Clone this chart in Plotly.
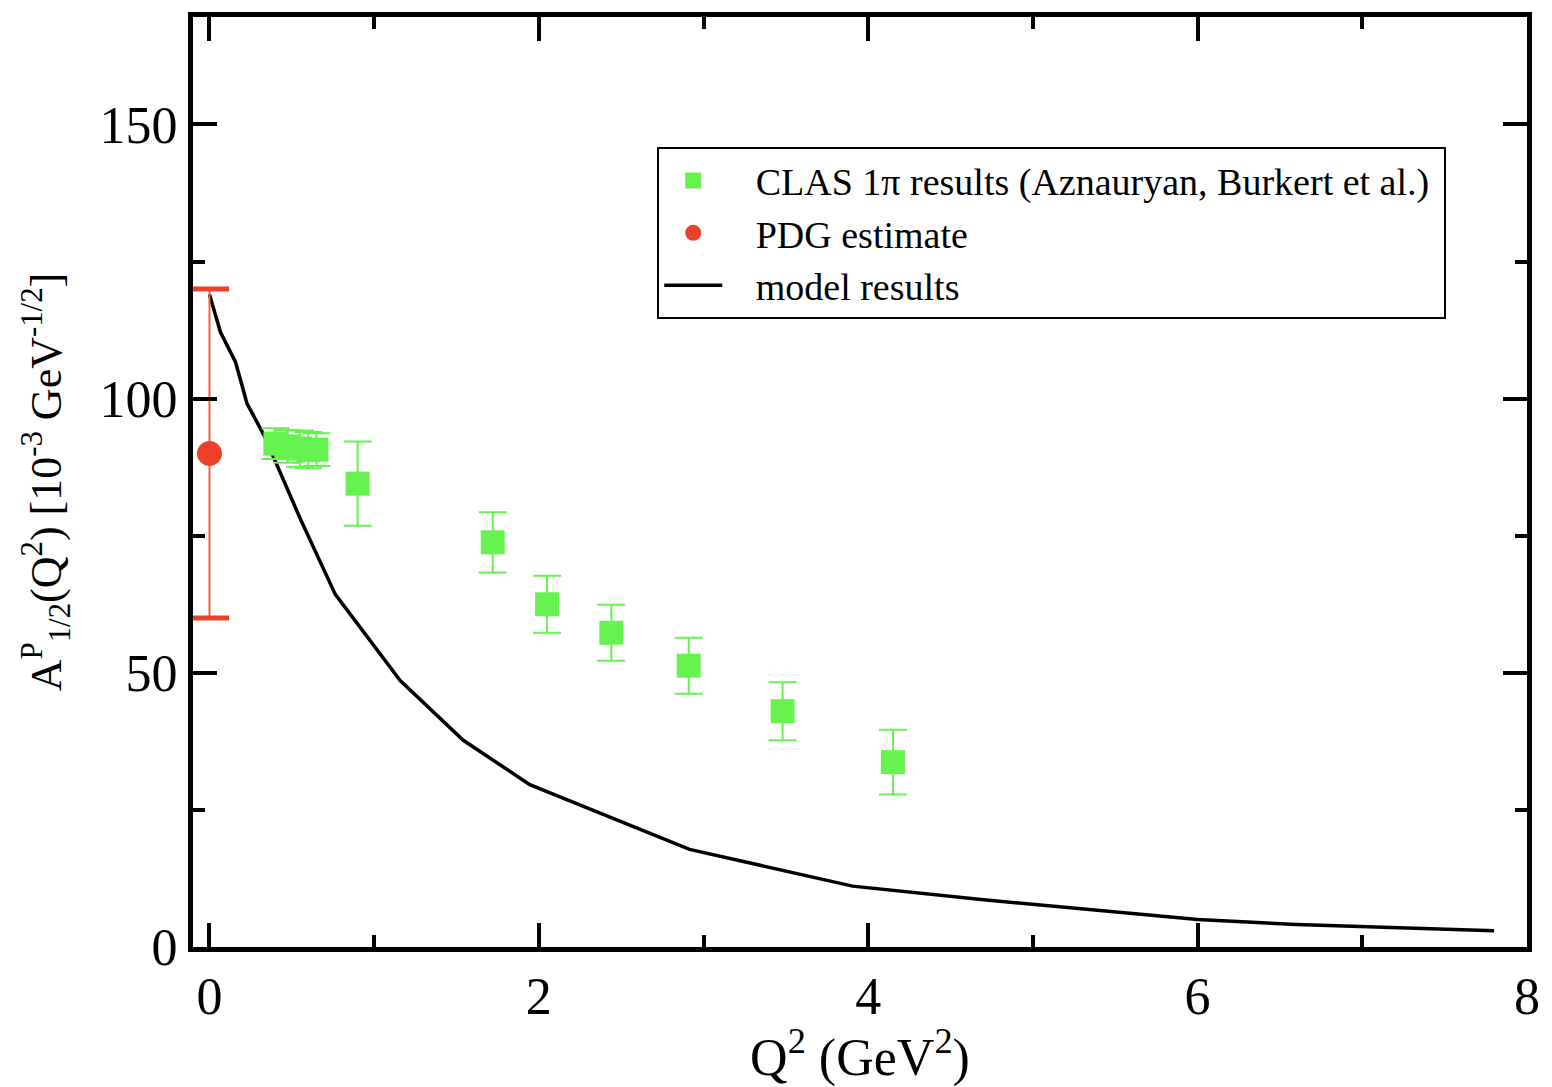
import plotly.graph_objects as go

# ---- data ----
clas_q2 = [0.40, 0.475, 0.55, 0.60, 0.65, 0.90, 1.72, 2.05, 2.44, 2.91, 3.48, 4.15]
clas_a = [91.8, 91.3, 90.9, 90.6, 90.7, 84.5, 73.8, 62.5, 57.3, 51.3, 43.0, 33.7]
clas_err = [2.8, 3.0, 3.3, 3.3, 3.0, 7.7, 5.5, 5.2, 5.1, 5.1, 5.3, 5.9]

pdg_q2 = [0.0]
pdg_a = [90.0]
pdg_err = [30.0]

model_q2 = [0.0, 0.067, 0.158, 0.228, 0.33, 0.55, 0.764, 1.158, 1.541, 1.945,
            2.915, 3.905, 4.7, 5.4, 6.0, 6.6, 7.2, 7.8]
model_a = [119.0, 112.1, 106.7, 99.1, 93.4, 78.2, 64.3, 48.6, 37.7, 29.6,
           17.8, 11.1, 8.6, 6.6, 5.0, 4.1, 3.5, 2.95]

x_ticks = [0, 2, 4, 6, 8]
y_ticks = [0, 50, 100, 150]

FONT = "Liberation Serif, Times New Roman, serif"
GREEN = "#66F24F"
RED = "#EE4028"
RED_BAR = "#F0604A"
PAD = "\u00a0\u00a0\u00a0"

fig = go.Figure()

# model curve
fig.add_trace(go.Scatter(
    x=model_q2, y=model_a, mode="lines", name=PAD + "model results",
    line=dict(color="black", width=3.5),
))

# CLAS data
fig.add_trace(go.Scatter(
    x=clas_q2, y=clas_a, mode="markers",
    name=PAD + "CLAS 1\u03c0 results (Aznauryan, Burkert et al.)\u00a0",
    marker=dict(symbol="square", size=24, color=GREEN, line=dict(width=0)),
    error_y=dict(type="data", array=clas_err, visible=True, color=GREEN,
                 thickness=2, width=14),
))

# PDG estimate
fig.add_trace(go.Scatter(
    x=pdg_q2, y=pdg_a, mode="markers", name=PAD + "PDG estimate",
    marker=dict(symbol="circle", size=25, color=RED, line=dict(width=0)),
    error_y=dict(type="data", array=pdg_err, visible=True, color=RED_BAR,
                 thickness=2, width=14),
    cliponaxis=False,
))
# thicker caps for PDG error bar (derived from data)
fig.add_trace(go.Scatter(
    x=pdg_q2 * 2,
    y=[pdg_a[0] - pdg_err[0], pdg_a[0] + pdg_err[0]],
    mode="markers", showlegend=False, hoverinfo="skip",
    marker=dict(symbol="line-ew", size=28, line=dict(width=5, color=RED)),
    cliponaxis=False,
))

# legend order: CLAS, PDG, model
fig.data[0].legendrank = 3
fig.data[1].legendrank = 1
fig.data[2].legendrank = 2

axis_common = dict(
    showline=True, linecolor="black", linewidth=5, mirror="allticks",
    ticks="inside", ticklen=24, tickwidth=4, tickcolor="black",
    showgrid=False, zeroline=False,
    tickfont=dict(family=FONT, size=52, color="black"),
)

fig.update_layout(
    width=1552, height=1087,
    paper_bgcolor="white", plot_bgcolor="white",
    margin=dict(l=193, r=20, t=12, b=140),
    font=dict(family=FONT, color="black"),
    xaxis=dict(
        range=[-0.1, 8], tickvals=x_ticks, ticktext=[str(v) for v in x_ticks],
        minor=dict(tickvals=[1, 3, 5, 7], ticks="inside", ticklen=12,
                   tickwidth=4, tickcolor="black"),
        title=dict(text="Q<sup>2</sup> (GeV<sup>2</sup>)",
                   font=dict(family=FONT, size=52, color="black"), standoff=6),
        **axis_common,
    ),
    yaxis=dict(
        range=[0, 169.6], tickvals=y_ticks, ticktext=[str(v) for v in y_ticks],
        minor=dict(tickvals=[25, 75, 125], ticks="inside", ticklen=12,
                   tickwidth=4, tickcolor="black"),
        title=dict(text="A<sup>P</sup><sub>1/2</sub>(Q<sup>2</sup>) [10<sup>-3</sup> GeV<sup>-1/2</sup>]",
                   font=dict(family=FONT, size=44, color="black"), standoff=26),
        **axis_common,
    ),
    legend=dict(
        x=0.348, y=0.86, xanchor="left", yanchor="top",
        bgcolor="white", bordercolor="black", borderwidth=2,
        font=dict(family=FONT, size=38, color="black"),
        itemwidth=58, tracegroupgap=0,
    ),
    showlegend=True,
)

fig.write_html("out.html")
